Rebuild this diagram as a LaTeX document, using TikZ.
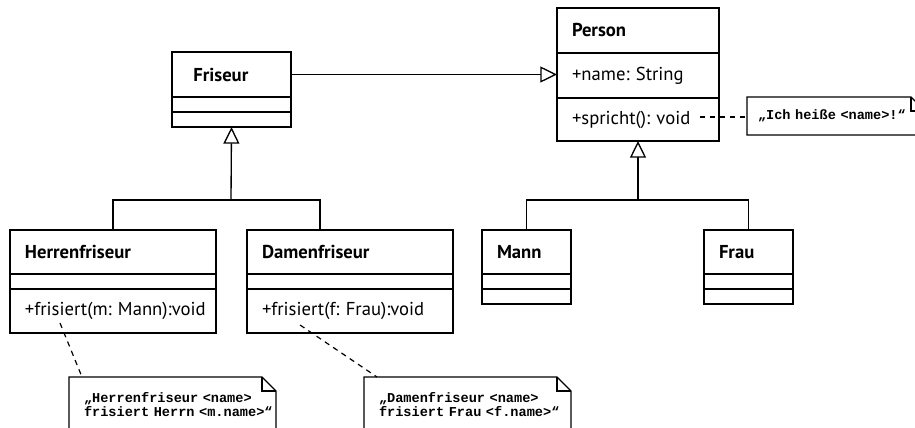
\documentclass[tikz,border=0pt]{standalone}
\usepackage{fontspec}
\newfontfamily\umlfont{PT Sans}
\newfontfamily\notefont{Liberation Mono}
\usetikzlibrary{positioning, arrows.meta}

% outline of a note with a folded corner
\newcommand{\dogear}[1]{%
  \draw[line width=0.9pt] (#1.north west) -- ([xshift=-10.5pt]#1.north east)
    -- ([yshift=-10.5pt]#1.north east) -- (#1.south east) -- (#1.south west) -- cycle;
  \draw[line width=0.9pt] ([xshift=-10.5pt]#1.north east) |- ([yshift=-10.5pt]#1.north east);
}

\tikzset{
  cls/.style 2 args={draw, line width=1pt, anchor=north west,
    inner sep=0pt, outer sep=0pt,
    text width=#1*0.75pt, minimum height=#2*0.75pt, align=left,
    execute at begin node={\leftskip=11.25pt},
    font=\umlfont\fontsize{14}{16}\selectfont},
  clsname/.style={font=\umlfont\bfseries\fontsize{14}{16}\selectfont},
  note/.style 2 args={anchor=north west, inner sep=0pt, outer sep=0pt,
    text width=#1*0.75pt, minimum height=#2*0.75pt, align=left,
    execute at begin node={\leftskip=11.25pt},
    font=\notefont\bfseries\fontsize{10.2}{10.5}\selectfont},
  gen/.style={line width=1pt, -{Triangle[open, length=12.5pt, width=12pt, fill=white]}},
  link/.style={line width=1pt},
  dep/.style={line width=0.9pt, dash pattern=on 4pt off 3.5pt},
}

\begin{document}
\frenchspacing
\begin{tikzpicture}[x=0.75pt, y=-0.75pt]
  \useasboundingbox (0,0) rectangle (915,428);
  \clip (0,0) rectangle (915,428);

  % Friseur
  \node[cls={119}{45}, clsname,
        execute at begin node={\leftskip=0pt plus 1fil\rightskip=0pt plus 1fil}] (friseur)
    at (172,52) {Friseur};
  \node[cls={119}{15}] (friseurAttr) at (friseur.south west) {};
  \node[cls={119}{15}] (friseurOps) at (friseurAttr.south west) {};

  % Person
  \node[cls={162}{45}, clsname] (person) at (557,8) {Person};
  \node[cls={162}{45}] (personAttr) at (person.south west) {+name: String};
  \node[cls={162}{43}] (personOps) at (personAttr.south west) {+spricht(): void};

  % Herrenfriseur / Damenfriseur
  \node[cls={206}{44}, clsname] (herren) at (10,230) {Herrenfriseur};
  \node[cls={206}{15}] (herrenAttr) at (herren.south west) {};
  \node[cls={206}{44}] (herrenOps) at (herrenAttr.south west) {+frisiert(m: Mann):void};
  \node[cls={206}{44}, clsname] (damen) at (247,230) {Damenfriseur};
  \node[cls={206}{15}] (damenAttr) at (damen.south west) {};
  \node[cls={206}{44}] (damenOps) at (damenAttr.south west) {+frisiert(f: Frau):void};

  % Mann / Frau
  \node[cls={89}{44}, clsname] (mann) at (482,230) {Mann};
  \node[cls={89}{15}] (mannAttr) at (mann.south west) {};
  \node[cls={89}{15}] (mannOps) at (mannAttr.south west) {};
  \node[cls={89}{44}, clsname] (frau) at (704,230) {Frau};
  \node[cls={89}{15}] (frauAttr) at (frau.south west) {};
  \node[cls={89}{15}] (frauOps) at (frauAttr.south west) {};

  % notes
  \node[note={178}{38}, execute at begin node={\leftskip=8.25pt}] (pnote) at (747,97)
    {„Ich heiße <name>!“};
  \node[note={207}{55}] (hnote) at (69,377)
    {„Herrenfriseur <name>\\frisiert Herrn <m.name>“};
  \node[note={207}{55}] (dnote) at (364,377)
    {„Damenfriseur <name>\\frisiert Frau <f.name>“};
  \dogear{pnote}
  \dogear{hnote}
  \dogear{dnote}

  % association
  \draw[gen] (friseur.east) -- (friseur.east -| personAttr.west);

  % generalisations
  \coordinate (fbar) at (231,200);
  \coordinate (pbar) at (638,200);
  \draw[link] (herren.north) |- (fbar) -| ([xshift=54.75pt]damen.north west);
  \draw[gen] (fbar) -- (friseurOps.south);
  \draw[link] (mann.north) |- (pbar) -| (frau.north);
  \draw[gen] (pbar) -- (personOps.south);

  % note links
  \coordinate (pstart) at (700,117);
  \coordinate (hstart) at (60,323);
  \coordinate (dstart) at (300,325);
  \draw[dep] (pstart) -- (pstart -| pnote.west);
  \draw[dep] (hstart) -- ([xshift=9.75pt]hnote.north west);
  \draw[dep] (dstart) -- ([xshift=9.75pt]dnote.north west);
\end{tikzpicture}
\end{document}
